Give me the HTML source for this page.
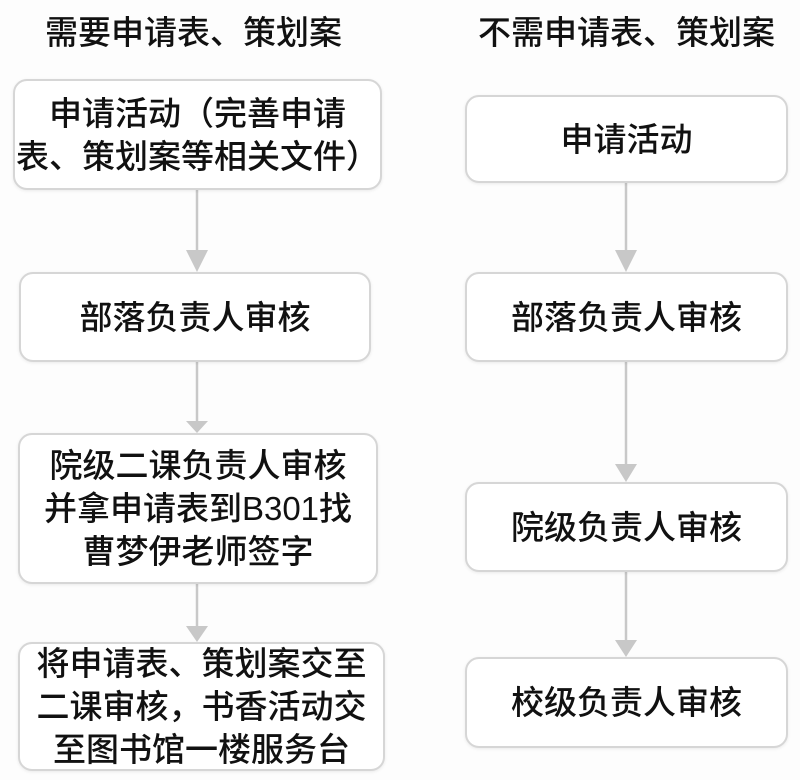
<!DOCTYPE html>
<html><head><meta charset="utf-8"><style>
body{margin:0;width:800px;height:780px;background:#fdfdfd;position:relative;overflow:hidden;font-family:"Liberation Sans","Noto Sans CJK SC",sans-serif;color:#111}
.h{position:absolute;top:12px;font-size:33px;line-height:42px;white-space:nowrap;font-weight:500}
.b{position:absolute;box-sizing:border-box;border:2.5px solid #d6d6d6;border-radius:14px;background:#fff;display:flex;align-items:center;justify-content:center;text-align:center;font-size:33px;line-height:43px;font-weight:500;box-shadow:0 1px 3px rgba(0,0,0,0.08);white-space:nowrap}
svg{position:absolute;left:0;top:0}
</style></head><body>
<svg width="800" height="780">
<g stroke="#c8c8c8" stroke-width="2.5" fill="none">
<line x1="197" y1="190" x2="197" y2="262"/>
<line x1="197" y1="362" x2="197" y2="425"/>
<line x1="197" y1="584" x2="197" y2="632"/>
<line x1="626" y1="183" x2="626" y2="262"/>
<line x1="626" y1="362" x2="626" y2="472"/>
<line x1="626" y1="572" x2="626" y2="647"/>
</g>
<g fill="#c8c8c8">
<polygon points="186,250 208,250 197,272"/>
<polygon points="186,421 208,421 197,433"/>
<polygon points="186,626 208,626 197,642"/>
<polygon points="615,250 637,250 626,272"/>
<polygon points="615,464 637,464 626,482"/>
<polygon points="615,640 637,640 626,657"/>
</g>
</svg>
<div class="h" style="left:45px">需要申请表、策划案</div>
<div class="h" style="left:478px">不需申请表、策划案</div>
<div class="b" style="left:13px;top:79px;width:369px;height:111px">申请活动（完善申请<br>表、策划案等相关文件）</div>
<div class="b" style="left:19px;top:272px;width:352px;height:90px">部落负责人审核</div>
<div class="b" style="left:18px;top:433px;width:360px;height:151px">院级二课负责人审核<br>并拿申请表到B301找<br>曹梦伊老师签字</div>
<div class="b" style="left:18px;top:642px;width:367px;height:129px">将申请表、策划案交至<br>二课审核，书香活动交<br>至图书馆一楼服务台</div>
<div class="b" style="left:465px;top:95px;width:323px;height:88px">申请活动</div>
<div class="b" style="left:465px;top:272px;width:323px;height:90px">部落负责人审核</div>
<div class="b" style="left:465px;top:482px;width:323px;height:90px">院级负责人审核</div>
<div class="b" style="left:465px;top:657px;width:323px;height:91px">校级负责人审核</div>
</body></html>
